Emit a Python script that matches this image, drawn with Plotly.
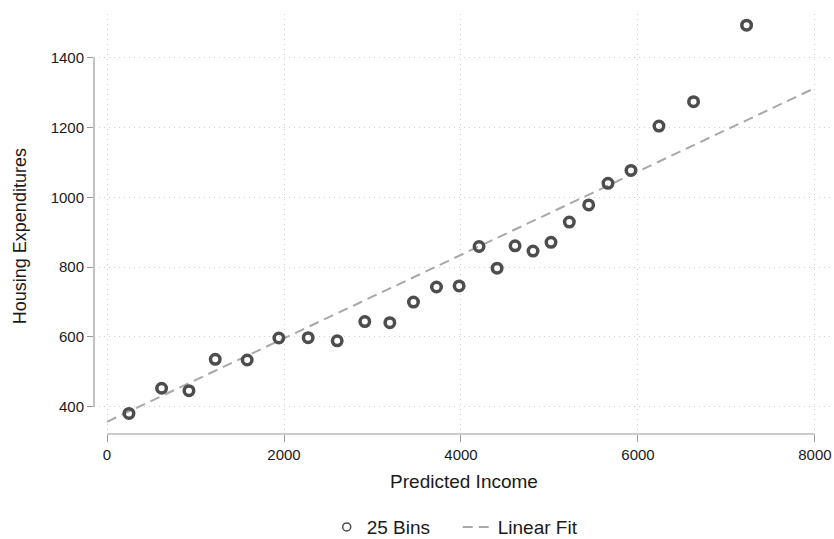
import plotly.graph_objects as go

# ---- data ----
bin_income = [248, 617, 926, 1223, 1584, 1942, 2273, 2601, 2913, 3196,
              3463, 3723, 3979, 4204, 4408, 4611, 4814, 5017, 5224, 5443,
              5661, 5921, 6237, 6628, 7227]
bin_housing = [381, 453, 446, 536, 534, 597, 598, 589, 644, 641,
               700, 743, 746, 859, 797, 861, 846, 871, 929, 978,
               1040, 1077, 1204, 1274, 1493]
fit_x = [0, 8000]
fit_y = [357, 1313]
x_ticks = [0, 2000, 4000, 6000, 8000]
y_ticks = [400, 600, 800, 1000, 1200, 1400]

FONT = "Liberation Sans, Arial, Helvetica, sans-serif"
TXT = "#1a1a1a"
PT = "#4d4d4d"
FIT = "#a8a8a8"
GRID = "#cfcfcf"
AX = "#9a9a9a"

fig = go.Figure()
fig.add_trace(go.Scatter(x=fit_x, y=fit_y, mode="lines",
                         line=dict(color=FIT, width=2, dash="10px,6px"),
                         showlegend=False, hoverinfo="skip"))
fig.add_trace(go.Scatter(x=bin_income, y=bin_housing, mode="markers",
                         marker=dict(symbol="circle-open", size=9.5, color=PT,
                                     line=dict(width=3.5, color=PT)),
                         showlegend=False))
# legend entries
fig.add_trace(go.Scatter(x=[None], y=[None], mode="markers", name="25 Bins",
                         marker=dict(symbol="circle-open", size=8, color=PT,
                                     line=dict(width=1.5, color=PT))))
fig.add_trace(go.Scatter(x=[None], y=[None], mode="lines", name="Linear Fit",
                         line=dict(color=FIT, width=2, dash="10px,6px")))

fig.update_layout(
    width=834, height=539,
    margin=dict(l=94, r=0, t=14, b=105, autoexpand=False),
    paper_bgcolor="white", plot_bgcolor="white",
    font=dict(family=FONT, color=TXT, size=15),
    xaxis=dict(range=[-147, 8215], tickvals=x_ticks, ticks="outside",
               ticklen=7, tickcolor=AX, tickwidth=1, showline=False,
               showgrid=True, gridcolor=GRID, griddash="1px,4px", gridwidth=1,
               zeroline=False, tickfont=dict(size=15, color=TXT), automargin=False,
               title=dict(text="Predicted Income", font=dict(size=19, color=TXT),
                          standoff=12)),
    yaxis=dict(range=[322, 1525], tickvals=y_ticks, ticks="outside",
               ticklen=6, tickcolor=AX, tickwidth=1, showline=False,
               showgrid=True, gridcolor=GRID, griddash="1px,4px", gridwidth=1,
               zeroline=False, tickfont=dict(size=15, color=TXT), automargin=False),
    legend=dict(orientation="h", x=0.4915, xanchor="center", y=-0.2215,
                yanchor="middle", font=dict(size=19, color=TXT),
                itemwidth=30, tracegroupgap=0, entrywidth=86),
    showlegend=True,
)

# Stata-style axis lines spanning only the tick range
fig.add_shape(type="line", xref="x", yref="paper", x0=x_ticks[0], x1=x_ticks[-1],
              y0=0, y1=0, line=dict(color=AX, width=1.2), layer="above")
fig.add_shape(type="line", xref="paper", yref="y", x0=0, x1=0,
              y0=y_ticks[0], y1=y_ticks[-1], line=dict(color=AX, width=1.2),
              layer="above")

fig.add_annotation(text="Housing Expenditures", xref="paper", yref="y",
                   x=-0.1, y=(y_ticks[0] + y_ticks[-1]) / 2, textangle=-90,
                   yshift=-4, showarrow=False, xanchor="center", yanchor="middle",
                   font=dict(size=18, color=TXT, family=FONT))

fig.write_html("out.html")
